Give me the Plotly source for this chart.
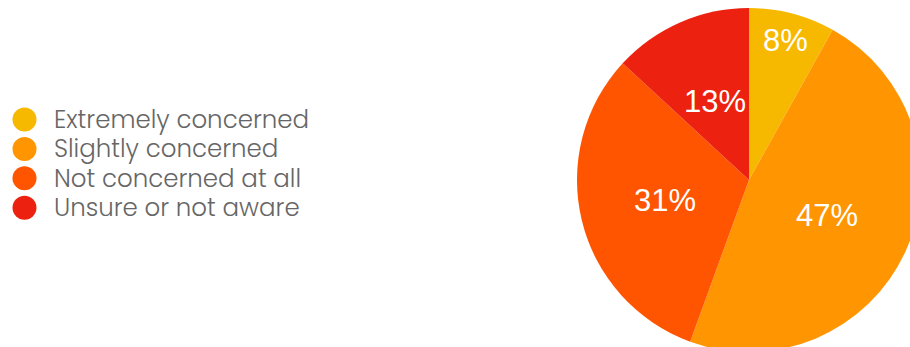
import math
import plotly.graph_objects as go

# Survey responses
categories = ["Extremely concerned", "Slightly concerned",
              "Not concerned at all", "Unsure or not aware"]
shares = [8, 47, 31, 13]
colors = ["#F7B900", "#FF9500", "#FF5500", "#EC2110"]
labels = [f"{v}%" for v in shares]

W, H = 930, 360
ML, MR, MT, MB = 0, 9, 8, 8
plot_w = W - ML - MR
plot_h = H - MT - MB
pie_dom_x = [577 / plot_w, 1]

fig = go.Figure()

fig.add_trace(go.Pie(
    values=shares,
    labels=categories,
    textinfo="none",
    marker=dict(colors=colors, line=dict(width=0)),
    sort=False,
    direction="clockwise",
    rotation=0,
    showlegend=False,
    hoverinfo="label+percent",
    domain=dict(x=pie_dom_x, y=[0, 1]),
))

# Slice labels placed along each slice's bisector (unit-radius axes over the pie)
total = sum(shares)
cum = 0
for v, lab in zip(shares, labels):
    mid = 2 * math.pi * (cum + v / 2) / total
    r = 0.84 if v / total < 0.1 else 0.5
    fig.add_annotation(
        x=r * math.sin(mid), y=r * math.cos(mid), xref="x2", yref="y2",
        text=lab, showarrow=False, xanchor="center", yanchor="middle",
        font=dict(family="Liberation Sans, Arial, sans-serif", size=31, color="white"),
    )
    cum += v

# Legend drawn as large circular markers with labels beside them
row_px = 29.4
rows = list(range(len(categories)))
fig.add_trace(go.Scatter(
    x=[24.5] * len(rows), y=rows, mode="markers",
    marker=dict(size=24, color=colors, line=dict(width=0)),
    showlegend=False, hoverinfo="skip",
    xaxis="x", yaxis="y",
))
# one text block; base size sets the line pitch, the span sets glyph size
legend_text = "<br>".join(f'<span style="font-size:24.5px">{c}</span>' for c in categories)
fig.add_annotation(
    x=52, y=(rows[0] + rows[-1]) / 2, xref="x", yref="y", text=legend_text,
    showarrow=False, xanchor="left", yanchor="middle", align="left",
    font=dict(family="Poppins, Lato, Noto Sans, sans-serif", size=row_px / 1.3,
              weight=300, color="#666666"),
)

first_px = 119.5 - MT
fig.update_layout(
    width=W, height=H,
    margin=dict(l=ML, r=MR, t=MT, b=MB),
    paper_bgcolor="white", plot_bgcolor="rgba(0,0,0,0)",
    xaxis=dict(domain=[0, 0.4], range=[0, 0.4 * plot_w], visible=False, fixedrange=True),
    yaxis=dict(domain=[0, 1],
               range=[(plot_h - first_px) / row_px, -first_px / row_px],
               visible=False, fixedrange=True),
    xaxis2=dict(domain=pie_dom_x, range=[-1, 1], visible=False, fixedrange=True),
    yaxis2=dict(domain=[0, 1], range=[-1, 1], visible=False, fixedrange=True),
    showlegend=False,
)

fig.write_html("out.html",
               post_script="document.body.style.margin='0';document.body.style.overflow='hidden';")
